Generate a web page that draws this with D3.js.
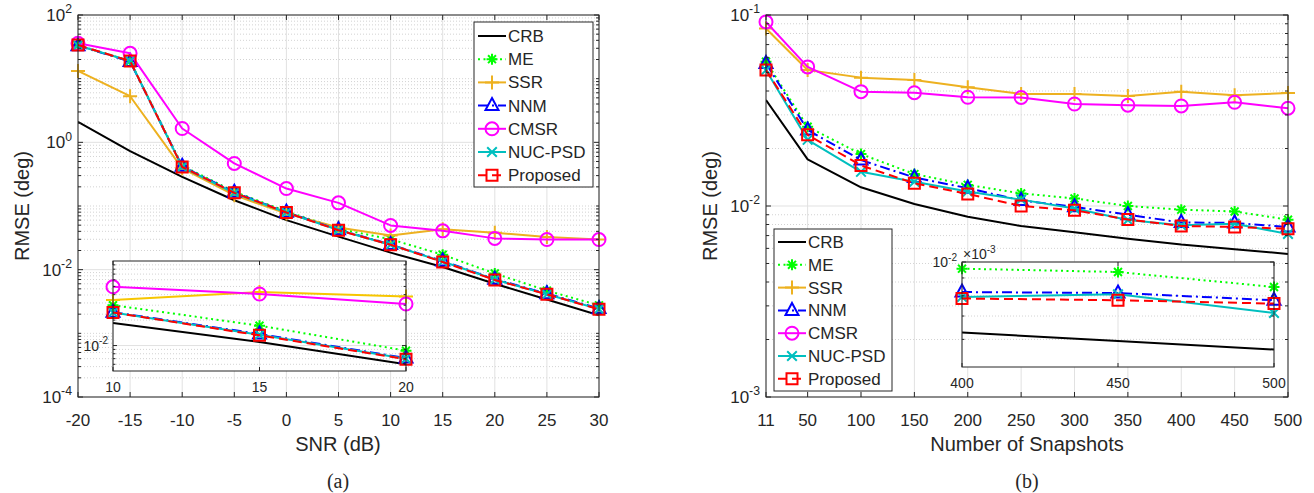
<!DOCTYPE html>
<html><head><meta charset="utf-8">
<script src="https://cdn.jsdelivr.net/npm/d3@7"></script>
<style>
body{margin:0;background:#fff}
svg{display:block}
text{font-family:"Liberation Sans",Arial,Helvetica,sans-serif;fill:#262626}
</style>
</head><body>
<svg id="c" width="1314" height="493"></svg>
<script>
// ---------------- DATA ----------------
const seriesNames = ["CRB","ME","SSR","NNM","CMSR","NUC-PSD","Proposed"];

// (a) RMSE vs SNR
const snrDb   = [-20,-15,-10,-5,0,5,10,15,20,25,30];
const crbSnr  = [2.1,0.73,0.287,0.123,0.060,0.033,0.0185,0.011,0.0060,0.0034,0.00192];
const meSnr   = [33.5,19.0,0.43,0.168,0.082,0.044,0.030,0.0172,0.0087,0.0047,0.00275];
const ssrSnr  = [13.2,5.3,0.39,0.148,0.076,0.046,0.0345,0.043,0.038,0.0327,0.0297];
const nnmSnr  = [33.0,18.6,0.42,0.164,0.080,0.0425,0.0248,0.0137,0.0071,0.0042,0.00245];
const cmsrSnr = [35.9,25.0,1.65,0.466,0.188,0.112,0.0495,0.0407,0.031,0.0297,0.0297];
const nucSnr  = [33.3,18.9,0.41,0.160,0.079,0.042,0.0246,0.0134,0.0070,0.0041,0.0024];
const propSnr = [33.7,18.9,0.41,0.161,0.079,0.0417,0.0246,0.0132,0.0069,0.0041,0.00238];

// (b) RMSE vs number of snapshots
const snapN    = [11,50,100,150,200,250,300,350,400,450,500];
const crbSnap  = [0.0359,0.01754,0.01253,0.01024,0.00879,0.00785,0.00728,0.00674,0.00628,0.00594,0.00561];
const meSnap   = [0.057,0.026,0.0187,0.0147,0.0129,0.01164,0.01096,0.0100,0.00957,0.00936,0.00848];
const ssrSnap  = [0.085,0.0515,0.047,0.0457,0.0418,0.0386,0.0386,0.0377,0.0397,0.038,0.039];
const nnmSnap  = [0.0558,0.025,0.0174,0.0141,0.0124,0.0107,0.0099,0.0090,0.0082,0.00815,0.00777];
const cmsrSnap = [0.092,0.0535,0.0397,0.0392,0.0371,0.037,0.0342,0.0337,0.0334,0.0349,0.0325];
const nucSnap  = [0.0515,0.0222,0.0151,0.0134,0.0119,0.0108,0.0097,0.00845,0.00794,0.00808,0.00714];
const propSnap = [0.0515,0.0236,0.0163,0.01315,0.01156,0.0100,0.0095,0.0085,0.00786,0.00777,0.0076];

// tick values / labels
const snrTicks      = [-20,-15,-10,-5,0,5,10,15,20,25,30];
const rmseTicksA    = [1e-4,1e-2,1e0,1e2];
const snapTicks     = [11,50,100,150,200,250,300,350,400,450,500];
const rmseTicksB    = [1e-3,1e-2,1e-1];
const insetATicksX  = [10,15,20];
const insetATicksY  = [1e-2];
const insetBTicksX  = [400,450,500];
const insetBTicksY  = [1e-2];
const axisTitles    = {xA:"SNR (dB)", xB:"Number of Snapshots", y:"RMSE (deg)", capA:"(a)", capB:"(b)", insetBExp:"-3"};

// ---------------- STYLES ----------------
const styles = {
  "CRB":      {color:"#000000", dash:null,       marker:null},
  "ME":       {color:"#00FF00", dash:"2,3.5",    marker:"star"},
  "SSR":      {color:"#EDB120", dash:null,       marker:"plus"},
  "NNM":      {color:"#0000FF", dash:"10,4,2,4", marker:"tri"},
  "CMSR":     {color:"#FF00FF", dash:null,       marker:"circle"},
  "NUC-PSD":  {color:"#00BFBF", dash:null,       marker:"x"},
  "Proposed": {color:"#FF0000", dash:"9,5",      marker:"square"}
};

const seriesA = [crbSnr,meSnr,ssrSnr,nnmSnr,cmsrSnr,nucSnr,propSnr].map((v,i)=>({name:seriesNames[i], pts:snrDb.map((x,j)=>[x,v[j]])}));
const seriesB = [crbSnap,meSnap,ssrSnap,nnmSnap,cmsrSnap,nucSnap,propSnap].map((v,i)=>({name:seriesNames[i], pts:snapN.map((x,j)=>[x,v[j]])}));

const svg = d3.select("#c");
const AX = "#262626";

function drawMarker(g, type, x, y, color){
  if(!type) return;
  const p = g.append("path").attr("transform",`translate(${x},${y})`)
    .attr("fill","none").attr("stroke",color).attr("stroke-width",2);
  let d="";
  if(type==="star"){const r=5.5,a=r*0.72; d=`M${-r},0H${r}M0,${-r}V${r}M${-a},${-a}L${a},${a}M${-a},${a}L${a},${-a}`;}
  else if(type==="plus"){const r=7; d=`M${-r},0H${r}M0,${-r}V${r}`;}
  else if(type==="tri"){d="M0,-7.5L6.5,4.5L-6.5,4.5Z";}
  else if(type==="circle"){const r=6.5; d=`M${r},0A${r},${r} 0 1,1 ${-r},0A${r},${r} 0 1,1 ${r},0Z`;}
  else if(type==="x"){const r=4.8; d=`M${-r},${-r}L${r},${r}M${-r},${r}L${r},${-r}`;}
  else if(type==="square"){const h=5.5; d=`M${-h},${-h}H${h}V${h}H${-h}Z`;}
  p.attr("d",d);
}

function supText(g, x, y, base, exp, fs, anchor){
  const t = g.append("text").attr("x",x).attr("y",y).attr("font-size",fs).attr("text-anchor",anchor);
  t.append("tspan").text(base);
  t.append("tspan").attr("dy",-fs*0.45).attr("font-size",fs*0.72).text(exp);
  return t;
}

let clipCount = 0;
function drawPanel(cfg){
  const {x0,x1,y0,y1,xDomain,yDomain,xTicks,yTicks,series,fs,tickLen,xLabelY,yLabelX,colorOverride} = cfg;
  const xs = d3.scaleLinear().domain(xDomain).range([x0,x1]);
  const ys = d3.scaleLog().domain(yDomain).range([y1,y0]);
  const g = svg.append("g");
  g.append("rect").attr("x",x0).attr("y",y0).attr("width",x1-x0).attr("height",y1-y0).attr("fill","#fff");
  const lo = Math.floor(Math.log10(yDomain[0])-1e-9), hi = Math.ceil(Math.log10(yDomain[1])+1e-9);
  const minor=[];
  for(let k=lo;k<=hi;k++) for(let m=1;m<=9;m++){
    const v=m*Math.pow(10,k);
    if(v>=yDomain[0]*1.0001 && v<=yDomain[1]*0.9999 && !yTicks.some(t=>Math.abs(t-v)/v<1e-6)) minor.push(v);
  }
  minor.forEach(v=>g.append("line").attr("x1",x0).attr("x2",x1).attr("y1",ys(v)).attr("y2",ys(v))
      .attr("stroke","#c8c8c8").attr("stroke-width",0.8).attr("stroke-dasharray","1,2"));
  yTicks.forEach(v=>g.append("line").attr("x1",x0).attr("x2",x1).attr("y1",ys(v)).attr("y2",ys(v))
      .attr("stroke","#e1e1e1").attr("stroke-width",1));
  xTicks.forEach(v=>g.append("line").attr("y1",y0).attr("y2",y1).attr("x1",xs(v)).attr("x2",xs(v))
      .attr("stroke","#e1e1e1").attr("stroke-width",1));
  const cid = "clip"+(clipCount++);
  svg.append("clipPath").attr("id",cid).append("rect").attr("x",x0).attr("y",y0).attr("width",x1-x0).attr("height",y1-y0);
  const line = d3.line().x(d=>xs(d[0])).y(d=>ys(d[1]));
  const inX = d=>d[0]>=xDomain[0]-1e-9 && d[0]<=xDomain[1]+1e-9;
  const inY = d=>d[1]>=yDomain[0] && d[1]<=yDomain[1];
  series.forEach(s=>{
    const st = styles[s.name];
    const col = (colorOverride && colorOverride[s.name]) || st.color;
    const pts = s.pts.filter(inX);
    g.append("path").attr("d",line(pts)).attr("fill","none").attr("stroke",col).attr("stroke-width",2)
      .attr("stroke-dasharray",st.dash).attr("clip-path",`url(#${cid})`).attr("stroke-linejoin","round");
    pts.filter(inY).forEach(d=>drawMarker(g,st.marker,xs(d[0]),ys(d[1]),col));
  });
  g.append("rect").attr("x",x0).attr("y",y0).attr("width",x1-x0).attr("height",y1-y0)
    .attr("fill","none").attr("stroke",AX).attr("stroke-width",1);
  xTicks.forEach(v=>{
    const x=xs(v);
    g.append("line").attr("x1",x).attr("x2",x).attr("y1",y1).attr("y2",y1-tickLen).attr("stroke",AX);
    g.append("line").attr("x1",x).attr("x2",x).attr("y1",y0).attr("y2",y0+tickLen).attr("stroke",AX);
    g.append("text").attr("x",x).attr("y",xLabelY).attr("text-anchor","middle").attr("font-size",fs).text(v);
  });
  yTicks.forEach(v=>{
    const y=ys(v);
    g.append("line").attr("x1",x0).attr("x2",x0+tickLen).attr("y1",y).attr("y2",y).attr("stroke",AX);
    g.append("line").attr("x1",x1).attr("x2",x1-tickLen).attr("y1",y).attr("y2",y).attr("stroke",AX);
    supText(g, yLabelX, y+fs*0.36, "10", String(Math.round(Math.log10(v))), fs, "end");
  });
  minor.forEach(v=>{
    const y=ys(v);
    g.append("line").attr("x1",x0).attr("x2",x0+tickLen*0.6).attr("y1",y).attr("y2",y).attr("stroke",AX);
    g.append("line").attr("x1",x1).attr("x2",x1-tickLen*0.6).attr("y1",y).attr("y2",y).attr("stroke",AX);
  });
  return {xs,ys,g};
}

function drawLegend(lx0,ly0,lx1,ly1,rowY0,rowStep){
  const g = svg.append("g");
  g.append("rect").attr("x",lx0).attr("y",ly0).attr("width",lx1-lx0).attr("height",ly1-ly0)
    .attr("fill","#fff").attr("stroke",AX).attr("stroke-width",1);
  seriesNames.forEach((n,i)=>{
    const st=styles[n], y=rowY0+i*rowStep;
    g.append("line").attr("x1",lx0+4).attr("x2",lx0+32).attr("y1",y).attr("y2",y)
      .attr("stroke",st.color).attr("stroke-width",2).attr("stroke-dasharray",st.dash);
    drawMarker(g,st.marker,lx0+18,y,st.color);
    g.append("text").attr("x",lx0+34).attr("y",y+6).attr("font-size",17).text(n);
  });
}

const capFont = "'Liberation Serif','Times New Roman',serif";

// ---------- Panel (a) ----------
drawPanel({x0:78,x1:599,y0:15,y1:397,xDomain:[-20,30],yDomain:[1e-4,1e2],xTicks:snrTicks,yTicks:rmseTicksA,
  series:seriesA,fs:17,tickLen:5,xLabelY:426,yLabelX:72});
drawLegend(474,22,593,187,36,23.2);
drawPanel({x0:113,x1:406,y0:261,y1:371,xDomain:[10,20],yDomain:[0.005,0.1],xTicks:insetATicksX,yTicks:insetATicksY,
  series:seriesA,fs:14,tickLen:4,xLabelY:392,yLabelX:108,colorOverride:{"SSR":"#F7C600"}});
svg.append("text").attr("x",338).attr("y",451).attr("text-anchor","middle").attr("font-size",20).text(axisTitles.xA);
svg.append("text").attr("transform","translate(29,206) rotate(-90)").attr("text-anchor","middle").attr("font-size",20).text(axisTitles.y);
svg.append("text").attr("x",338).attr("y",488).attr("text-anchor","middle").attr("font-size",20)
  .style("font-family",capFont).text(axisTitles.capA);

// ---------- Panel (b) ----------
drawPanel({x0:766,x1:1288,y0:15,y1:397,xDomain:[11,500],yDomain:[1e-3,1e-1],xTicks:snapTicks,yTicks:rmseTicksB,
  series:seriesB,fs:17,tickLen:5,xLabelY:426,yLabelX:760});
drawLegend(774,229,892,391,242,22.8);
drawPanel({x0:962,x1:1274,y0:262,y1:367,xDomain:[400,500],yDomain:[0.005,0.01],xTicks:insetBTicksX,yTicks:insetBTicksY,
  series:seriesB,fs:14,tickLen:4,xLabelY:388,yLabelX:957});
supText(svg, 963, 259, "\u00d710", axisTitles.insetBExp, 14, "start");
svg.append("text").attr("x",1027).attr("y",451).attr("text-anchor","middle").attr("font-size",20).text(axisTitles.xB);
svg.append("text").attr("transform","translate(717,206) rotate(-90)").attr("text-anchor","middle").attr("font-size",20).text(axisTitles.y);
svg.append("text").attr("x",1027).attr("y",488).attr("text-anchor","middle").attr("font-size",20)
  .style("font-family",capFont).text(axisTitles.capB);
</script>
</body></html>
